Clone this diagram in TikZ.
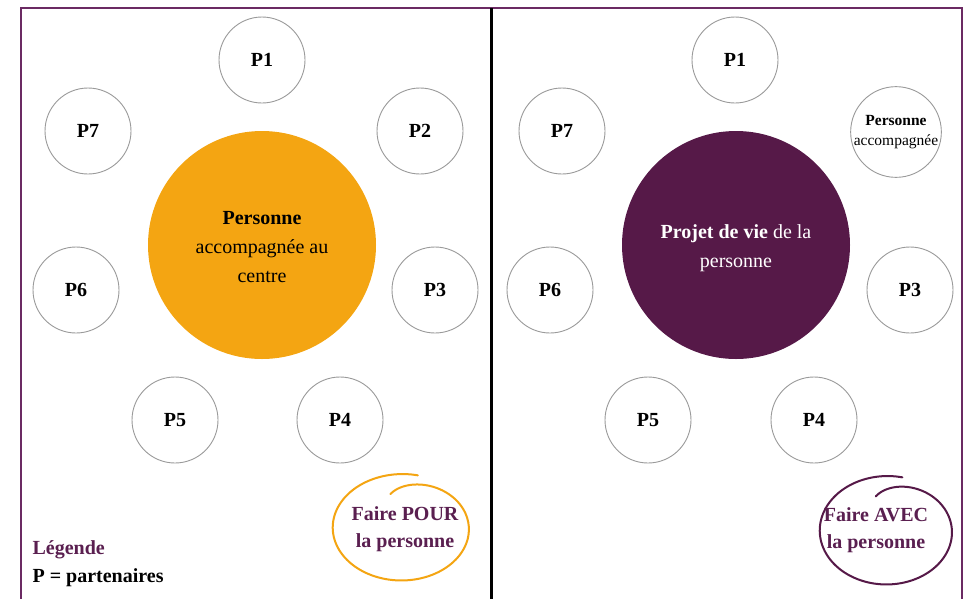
\documentclass[tikz,border=0pt]{standalone}
\usepackage{fontspec}
\setmainfont{Liberation Serif}
\definecolor{orangeC}{HTML}{F4A512}
\definecolor{purpleC}{HTML}{561948}
\definecolor{frameC}{HTML}{6B2A63}
\definecolor{textP}{HTML}{5A1F50}
\definecolor{ringC}{HTML}{9A9A9A}
\begin{document}
\begin{tikzpicture}[x=1pt,y=-1pt,
  pcirc/.style={circle,draw=ringC,line width=0.9pt,minimum size=86pt,inner sep=0pt,font=\fontsize{20}{22}\selectfont\bfseries,text=black},
  bigcirc/.style={circle,minimum size=228pt,inner sep=0pt},
  labtxt/.style={align=center,text=textP,font=\fontsize{20}{27}\selectfont\bfseries}]
\useasboundingbox (0,0) rectangle (967,598);
\fill[white] (0,0) rectangle (967,598);
% frame
\draw[frameC,line width=1.6pt] (21,640) -- (21,8) -- (962,8) -- (962,640);
\draw[black,line width=3pt] (491,8) -- (491,600);
% left panel
\node[bigcirc,fill=orangeC] (cL) at (262,245) {};
\node[align=center,font=\fontsize{20}{29}\selectfont] (cLt) at (262,247) {\textbf{Personne}\\accompagnée au\\centre};
\node[pcirc] (l1) at (262,60) {P1};
\node[pcirc] (l2) at (420,131) {P2};
\node[pcirc] (l3) at (435,290) {P3};
\node[pcirc] (l4) at (340,420) {P4};
\node[pcirc] (l5) at (175,420) {P5};
\node[pcirc] (l6) at (76,290) {P6};
\node[pcirc] (l7) at (88,131) {P7};
% right panel
\node[bigcirc,fill=purpleC] (cR) at (736,245) {};
\node[align=center,text=white,font=\fontsize{20}{29}\selectfont] (cRt) at (736,248) {\textbf{Projet de vie} de la\\personne};
\node[pcirc] (r1) at (735,60) {P1};
\node[pcirc,font=\fontsize{15.5}{20}\selectfont,align=center] (r2) at (896,132) {\textbf{Personne}\\accompagnée};
\node[pcirc] (r3) at (910,290) {P3};
\node[pcirc] (r4) at (814,420) {P4};
\node[pcirc] (r5) at (648,420) {P5};
\node[pcirc] (r6) at (550,290) {P6};
\node[pcirc] (r7) at (562,131) {P7};
% hand-drawn rings
\draw[orangeC,line width=2pt,line cap=round,smooth,samples=80,domain=0:1]
  plot ({402+69*(1.02-0.06*\x-0.3*\x^12)*cos(-77-388*\x)},{528+53*(1.02-0.06*\x-0.3*\x^12)*sin(-77-388*\x)});
\draw[purpleC,line width=2pt,line cap=round,smooth,samples=80,domain=0:1]
  plot ({887+67*(1.02-0.06*\x-0.3*\x^12)*cos(-77-388*\x)},{531+54*(1.02-0.06*\x-0.3*\x^12)*sin(-77-388*\x)});
\node[labtxt] (fp) at (405,529) {Faire POUR\\la personne};
\node[labtxt] (fa) at (876,530) {Faire AVEC\\la personne};
% legend
\node[anchor=west,text=textP,font=\fontsize{20}{22}\selectfont\bfseries] (lg) at (29,550) {Légende};
\node[anchor=west,font=\fontsize{20}{22}\selectfont\bfseries] (lp) at (29,578) {P = partenaires};
\end{tikzpicture}
\end{document}
